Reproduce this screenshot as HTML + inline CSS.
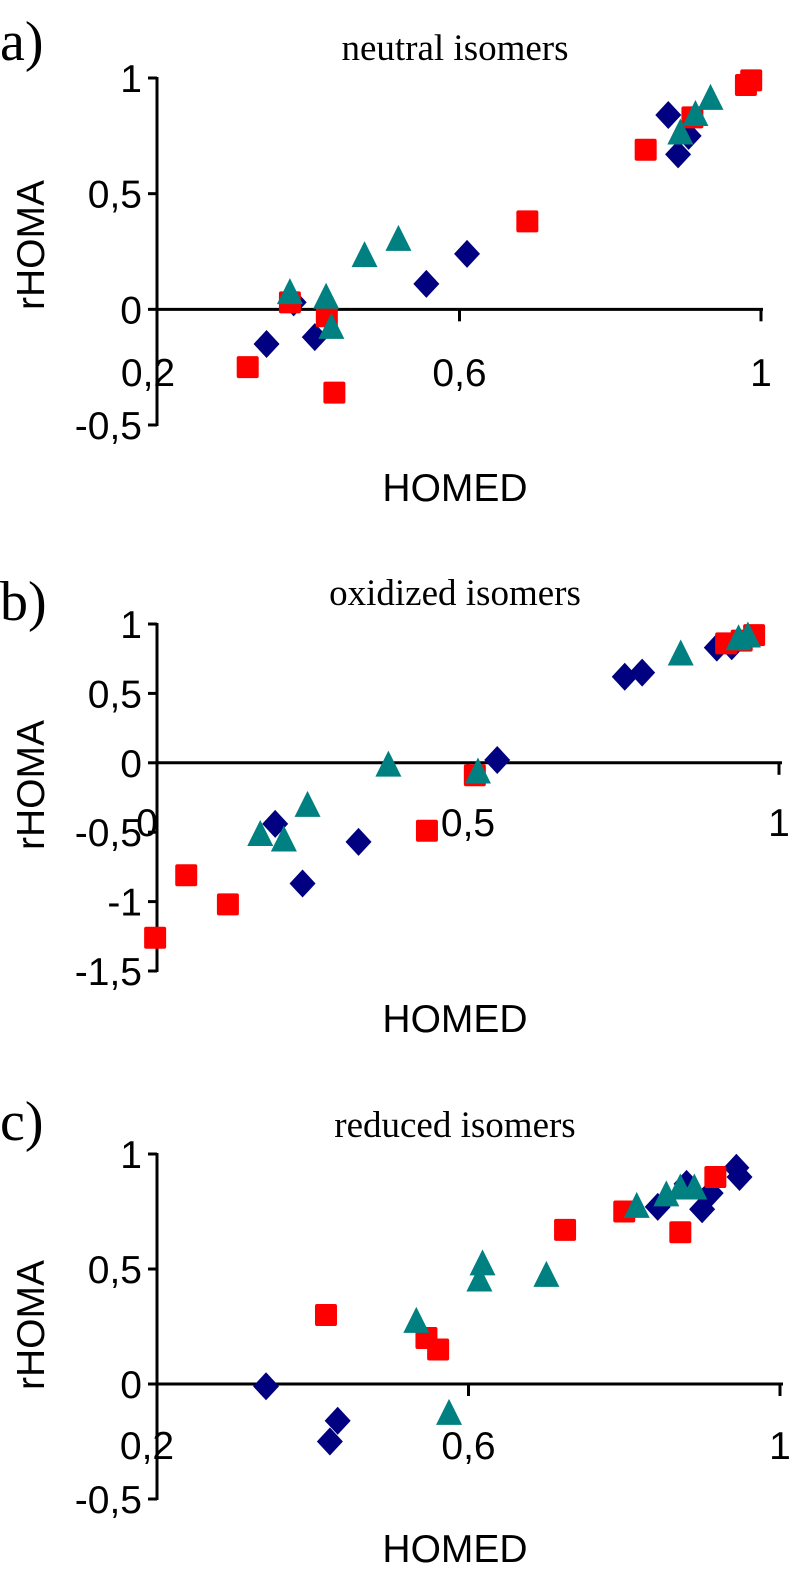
<!DOCTYPE html>
<html><head><meta charset="utf-8"><style>
body{margin:0;background:#fff;}
svg{display:block;}
.tick{font-family:"Liberation Sans",sans-serif;font-size:39px;fill:#000;}
.ttl{font-family:"Liberation Serif",serif;font-size:37px;fill:#000;}
.pl{font-family:"Liberation Serif",serif;font-size:56px;fill:#000;}
</style></head><body>
<svg id="chart" width="799" height="1578" viewBox="0 0 799 1578"></svg>
<script>
// Panel a (neutral)
const aDiamondX=[0.877,0.904,0.89,0.61,0.556,0.38,0.408,0.344];
const aDiamondY=[0.84,0.75,0.67,0.24,0.11,0.03,-0.12,-0.15];
const aSquareX=[0.987,0.98,0.909,0.847,0.69,0.375,0.424,0.319,0.434];
const aSquareY=[0.99,0.97,0.83,0.69,0.38,0.03,-0.03,-0.25,-0.36];
const aTriX=[0.933,0.913,0.893,0.519,0.474,0.375,0.423,0.43];
const aTriY=[0.91,0.84,0.76,0.30,0.23,0.07,0.05,-0.08];
const aXTicks=["0,2","0,6","1"];const aXTickVals=[0.2,0.6,1];
const aYTicks=["1","0,5","0","-0,5"];const aYTickVals=[1,0.5,0,-0.5];
// Panel b (oxidized)
const bDiamondX=[0.752,0.78,0.90,0.924,0.547,0.19,0.324,0.234];
const bDiamondY=[0.62,0.65,0.83,0.84,0.02,-0.44,-0.57,-0.87];
const bSquareX=[0.96,0.915,0.94,0.511,0.434,0.047,0.114,-0.003];
const bSquareY=[0.92,0.86,0.88,-0.09,-0.49,-0.81,-1.02,-1.26];
const bTriX=[0.95,0.935,0.842,0.372,0.516,0.242,0.166,0.204];
const bTriY=[0.91,0.89,0.78,-0.02,-0.07,-0.31,-0.52,-0.56];
const bXTicks=["0","0,5","1"];const bXTickVals=[0,0.5,1];
const bYTicks=["1","0,5","0","-0,5","-1","-1,5"];const bYTickVals=[1,0.5,0,-0.5,-1,-1.5];
// Panel c (reduced)
const cDiamondX=[0.944,0.948,0.911,0.90,0.88,0.843,0.34,0.432,0.422];
const cDiamondY=[0.94,0.90,0.83,0.76,0.87,0.77,-0.01,-0.16,-0.25];
const cSquareX=[0.917,0.872,0.80,0.724,0.417,0.546,0.561];
const cSquareY=[0.90,0.66,0.75,0.67,0.30,0.20,0.15];
const cTriX=[0.89,0.872,0.854,0.816,0.618,0.614,0.70,0.533,0.575];
const cTriY=[0.85,0.85,0.82,0.77,0.52,0.45,0.47,0.27,-0.13];
const cXTicks=["0,2","0,6","1"];const cXTickVals=[0.2,0.6,1];
const cYTicks=["1","0,5","0","-0,5"];const cYTickVals=[1,0.5,0,-0.5];

const NS="http://www.w3.org/2000/svg";
const svg=document.getElementById('chart');
function mk(tag,attrs,parent){const e=document.createElementNS(NS,tag);for(const k in attrs)e.setAttribute(k,attrs[k]);(parent||svg).appendChild(e);return e;}

function panel(cfg){
  const g=mk('g',{});
  
  
  const sx=v=>cfg.x0px+(v-cfg.xmin)*(cfg.x1px-cfg.x0px)/(cfg.xmax-cfg.xmin);
  const sy=v=>cfg.y0px+(v-cfg.ymax)*(cfg.y1px-cfg.y0px)/(cfg.ymin-cfg.ymax);
  const ax=157;
  const lab=mk('text',{x:0,y:cfg.labelY,class:'pl'},g);lab.textContent=cfg.letter;
  
  
  const t=mk('text',{x:455,y:cfg.titleY,class:'ttl','text-anchor':'middle'},g);t.textContent=cfg.title;
  
  
  const ya=mk('line',{x1:ax,x2:ax,y1:sy(cfg.ymax)-1,y2:sy(cfg.ymin)+1,stroke:'#000','stroke-width':3},g);
  
  
  const xa=mk('line',{x1:ax,x2:cfg.xEnd,y1:sy(0),y2:sy(0),stroke:'#000','stroke-width':3},g);
  
  
  cfg.yv.forEach((v,i)=>{
    mk('line',{x1:ax-9,x2:ax,y1:sy(v),y2:sy(v),stroke:'#000','stroke-width':3},g);
    const tx=mk('text',{x:142,y:sy(v)+14,class:'tick','text-anchor':'end'},g);tx.textContent=cfg.yt[i];
    
    
  });
  cfg.xv.forEach((v,i)=>{
    if(sx(v)>ax+5) mk('line',{x1:sx(v),x2:sx(v),y1:sy(0),y2:sy(0)+12,stroke:'#000','stroke-width':3},g);
    const tx=mk('text',{x:sx(v)-(i==0?10:0),y:cfg.xLabY,class:'tick','text-anchor':'middle'},g);tx.textContent=cfg.xt[i];
    
    
  });
  const yt=mk('text',{x:0,y:0,class:'tick',transform:`translate(44,${cfg.yTitleY}) rotate(-90)`,'text-anchor':'middle'},g);yt.textContent='rHOMA';
  
  
  const xt=mk('text',{x:455,y:cfg.xTitleY,class:'tick','text-anchor':'middle'},g);xt.textContent='HOMED';
  
  
  cfg.dx.forEach((v,i)=>{const x=sx(v),y=sy(cfg.dy[i]);
    const p=mk('polygon',{points:`${x},${y-14} ${x+13},${y} ${x},${y+14} ${x-13},${y}`,fill:'#000080'},g);
    
    });
  cfg.sqx.forEach((v,i)=>{const x=sx(v),y=sy(cfg.sqy[i]);
    const p=mk('rect',{x:x-11,y:y-11,width:22,height:22,rx:2,fill:'#ff0000'},g);
    
    });
  cfg.tx.forEach((v,i)=>{const x=sx(v),y=sy(cfg.ty[i]);
    const p=mk('polygon',{points:`${x},${y-15} ${x+13},${y+11} ${x-13},${y+11}`,fill:'#008080'},g);
    
    });
}
panel({id:'neutral',letter:'a)',title:'neutral isomers',labelY:60,titleY:60,xmin:0.2,xmax:1,x0px:158,x1px:761,ymin:-0.5,ymax:1,y0px:78,y1px:425,xEnd:763,
  xv:aXTickVals,xt:aXTicks,yv:aYTickVals,yt:aYTicks,xLabY:386,yTitleY:245,xTitleY:501,dx:aDiamondX,dy:aDiamondY,sqx:aSquareX,sqy:aSquareY,tx:aTriX,ty:aTriY});
panel({id:'oxidized',letter:'b)',title:'oxidized isomers',labelY:620,titleY:605,xmin:0,xmax:1,x0px:157,x1px:779,ymin:-1.5,ymax:1,y0px:624,y1px:971,xEnd:782,
  xv:bXTickVals,xt:bXTicks,yv:bYTickVals,yt:bYTicks,xLabY:836,yTitleY:785,xTitleY:1032,dx:bDiamondX,dy:bDiamondY,sqx:bSquareX,sqy:bSquareY,tx:bTriX,ty:bTriY});
panel({id:'reduced',letter:'c)',title:'reduced isomers',labelY:1140,titleY:1137,xmin:0.2,xmax:1,x0px:157,x1px:780,ymin:-0.5,ymax:1,y0px:1154,y1px:1499,xEnd:783,
  xv:cXTickVals,xt:cXTicks,yv:cYTickVals,yt:cYTicks,xLabY:1459,yTitleY:1325,xTitleY:1562,dx:cDiamondX,dy:cDiamondY,sqx:cSquareX,sqy:cSquareY,tx:cTriX,ty:cTriY});
</script>
</body></html>
